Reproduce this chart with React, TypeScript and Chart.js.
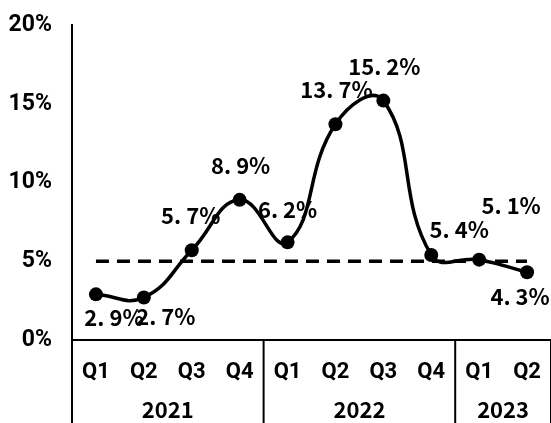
import { useEffect, useRef } from "react";
import { Chart, registerables } from "chart.js";

Chart.register(...registerables);

// Quarterly growth rate, grouped by year
const quarters = ["Q1", "Q2", "Q3", "Q4", "Q1", "Q2", "Q3", "Q4", "Q1", "Q2"];
const years = ["2021", "2022", "2023"];
const quartersPerYear = [4, 4, 2];
const growth = [2.9, 2.7, 5.7, 8.9, 6.2, 13.7, 15.2, 5.4, 5.1, 4.3];
const target = [5, 5, 5, 5, 5, 5, 5, 5, 5, 5];
const yMin = 0;
const yMax = 20;
const yStep = 5;

// where each value label sits relative to its point (px)
const labelOffsets: [number, number][] = [
  [18, 23], [22, 19], [-1, -35], [1, -34], [0, -33],
  [1, -35], [1, -34], [28, -25], [32, -54], [-7, 24],
];

const AXIS_FONT = 'Roboto, "Liberation Sans", Arial, sans-serif';
const LABEL_FONT = '"Noto Sans CJK SC", "Noto Sans", sans-serif';

const fmt = (v: number) => `${v.toFixed(1).replace(".", ". ")}%`;

const valueLabels = {
  id: "valueLabels",
  afterDatasetsDraw(chart: Chart) {
    const { ctx } = chart;
    const meta = chart.getDatasetMeta(1);
    ctx.save();
    ctx.fillStyle = "#000";
    ctx.font = `bold 22px ${LABEL_FONT}`;
    ctx.textAlign = "center";
    ctx.textBaseline = "middle";
    meta.data.forEach((pt: any, i: number) => {
      const [dx, dy] = labelOffsets[i];
      ctx.fillText(fmt(growth[i]), pt.x + dx, pt.y + dy);
    });
    ctx.restore();
  },
};

const yearGroups = {
  id: "yearGroups",
  afterDraw(chart: Chart) {
    const { ctx, chartArea, height } = chart;
    const { left, right, bottom } = chartArea;
    const w = (right - left) / quarters.length;
    ctx.save();
    ctx.strokeStyle = "#000";
    ctx.lineWidth = 2;
    ctx.fillStyle = "#000";
    ctx.font = `bold 22px ${LABEL_FONT}`;
    ctx.textAlign = "center";
    ctx.textBaseline = "middle";
    // left axis continues down through the category rows
    ctx.beginPath();
    ctx.moveTo(left, bottom);
    ctx.lineTo(left, height);
    ctx.stroke();
    let start = 0;
    years.forEach((yr, g) => {
      const end = start + quartersPerYear[g];
      const x0 = left + start * w;
      const x1 = left + end * w;
      ctx.beginPath();
      ctx.moveTo(x1, bottom);
      ctx.lineTo(x1, height);
      ctx.stroke();
      ctx.fillText(yr, (x0 + x1) / 2, bottom + 70);
      start = end;
    });
    ctx.restore();
  },
};

export default function App() {
  const ref = useRef<HTMLCanvasElement>(null);

  useEffect(() => {
    if (!ref.current) return;
    const chart = new Chart(ref.current, {
      type: "line",
      data: {
        labels: quarters,
        datasets: [
          {
            data: target,
            borderColor: "#000",
            borderWidth: 3.5,
            borderDash: [13, 8],
            pointRadius: 0,
            tension: 0,
            fill: false,
          },
          {
            data: growth,
            borderColor: "#000",
            borderWidth: 3.5,
            tension: 0.45,
            pointRadius: 7,
            pointBackgroundColor: "#000",
            pointBorderColor: "#000",
            pointBorderWidth: 0,
            fill: false,
            clip: false as any,
          },
        ],
      },
      options: {
        responsive: false,
        animation: false,
        events: [],
        layout: { autoPadding: false, padding: { top: 25, right: 0, left: 0, bottom: 0 } },
        plugins: {
          legend: { display: false },
          tooltip: { enabled: false },
        },
        scales: {
          x: {
            offset: true,
            grid: { display: false, drawTicks: false, offset: true },
            border: { display: true, color: "#000", width: 2 },
            ticks: {
              color: "#000",
              padding: 19,
              maxRotation: 0,
              autoSkip: false,
              font: { family: AXIS_FONT, size: 22, weight: "bold" },
            },
            afterFit(scale: any) {
              scale.height = 83;
              scale.paddingLeft = 0;
              scale.paddingRight = 0;
            },
          },
          y: {
            min: yMin,
            max: yMax,
            grid: { display: false, drawTicks: false },
            border: { display: true, color: "#000", width: 2 },
            ticks: {
              stepSize: yStep,
              color: "#000",
              padding: 20,
              font: { family: AXIS_FONT, size: 23, weight: "bold" },
              callback: (v: any) => `${v}%`,
            },
            afterFit(scale: any) {
              scale.width = 72;
              scale.paddingTop = 0;
              scale.paddingBottom = 0;
            },
          },
        },
      },
      plugins: [valueLabels, yearGroups],
    });
    return () => chart.destroy();
  }, []);

  return (
    <div style={{ position: "fixed", left: 0, top: 0, width: 551, height: 423, background: "#fff" }}>
      <canvas ref={ref} width={551} height={423} style={{ display: "block" }} />
    </div>
  );
}
